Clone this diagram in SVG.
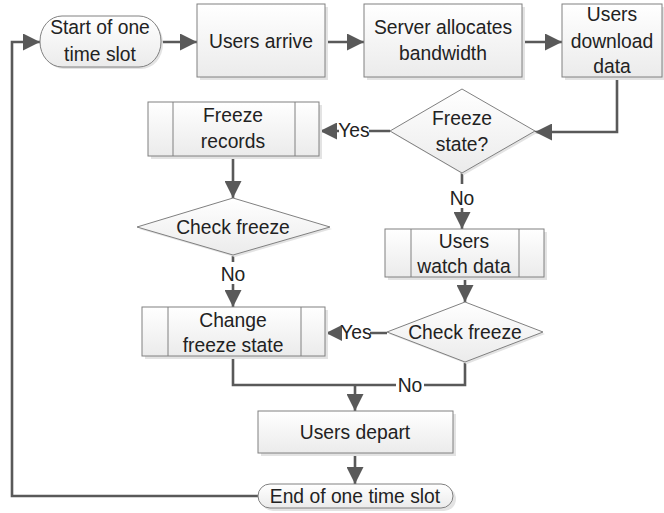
<svg xmlns="http://www.w3.org/2000/svg" width="664" height="513" viewBox="0 0 664 513">
<defs>
<linearGradient id="g" x1="0" y1="0" x2="0" y2="1">
<stop offset="0" stop-color="#ffffff"/>
<stop offset="1" stop-color="#ebebeb"/>
</linearGradient>
<marker id="ah" viewBox="0 0 10 10" refX="10" refY="5" markerWidth="17" markerHeight="17" markerUnits="userSpaceOnUse" orient="auto">
<path d="M0,0 L10,5 L0,10 z" fill="#595959"/>
</marker>
</defs>
<style>
.s{fill:url(#g);stroke:#808080;stroke-width:1}
.sh{fill:#e3e3e3;stroke:none}
.in{stroke:#808080;stroke-width:1;fill:none}
.c{fill:none;stroke:#595959;stroke-width:2.6}
.a{marker-end:url(#ah)}
text{font-family:"Liberation Sans",Arial,sans-serif;font-size:19.3px;fill:#222222;text-anchor:middle}
.lb{fill:#ffffff;stroke:none}
</style>

<g id="connectors">
<path class="c a" d="M161,42 H197"/>
<path class="c a" d="M325,42 H364"/>
<path class="c a" d="M522,42 H562"/>
<path class="c a" d="M617,77 V132 H535"/>
<path class="c a" d="M390,131 H320"/>
<path class="c a" d="M462,173 V229"/>
<path class="c a" d="M233,156 V198"/>
<path class="c a" d="M233,255 V307"/>
<path class="c a" d="M465,277 V302"/>
<path class="c a" d="M387,333 H326"/>
<path class="c" d="M233,356 V385 H355"/>
<path class="c" d="M465,362 V385 H355"/>
<path class="c a" d="M355,385 V411"/>
<path class="c a" d="M355,453 V484"/>
<path class="c a" d="M258,496 H12 V42 H40"/>
<rect class="lb" x="339" y="120" width="30" height="20"/>
<text x="354" y="137">Yes</text>
<rect class="lb" x="450" y="184" width="24" height="24"/>
<text x="462" y="205">No</text>
<rect class="lb" x="221" y="262" width="24" height="22"/>
<text x="233" y="281">No</text>
<rect class="lb" x="342" y="322" width="28" height="20"/>
<text x="356" y="339">Yes</text>
<rect class="lb" x="396" y="376" width="28" height="18"/>
<text x="410" y="392">No</text>
</g>

<g id="start">
<rect class="sh" x="42" y="18" width="121" height="51" rx="22" ry="25"/>
<rect class="s" x="40" y="16" width="121" height="51" rx="22" ry="25"/>
<text x="100" y="34">Start of one</text>
<text x="100" y="61">time slot</text>
</g>

<g id="users-arrive">
<rect class="sh" x="200" y="7" width="128" height="73"/>
<rect class="s" x="197" y="4" width="128" height="73"/>
<text x="261" y="48">Users arrive</text>
</g>

<g id="server-allocates">
<rect class="sh" x="367" y="7" width="158" height="73"/>
<rect class="s" x="364" y="4" width="158" height="73"/>
<text x="443" y="34">Server allocates</text>
<text x="443" y="60">bandwidth</text>
</g>

<g id="users-download">
<rect class="sh" x="565" y="7" width="100" height="73"/>
<rect class="s" x="562" y="4" width="100" height="73"/>
<text x="612" y="21">Users</text>
<text x="612" y="48">download</text>
<text x="612" y="73">data</text>
</g>

<g id="freeze-state">
<path class="sh" d="M464,91 L537,133 L464,175 L392,133 z"/>
<path class="s" d="M462,89 L535,131 L462,173 L390,131 z"/>
<text x="462" y="125">Freeze</text>
<text x="462" y="151">state?</text>
</g>

<g id="freeze-records">
<rect class="sh" x="151" y="105" width="171" height="54"/>
<rect class="s" x="148" y="102" width="171" height="54"/>
<path class="in" d="M173,102 V156 M295,102 V156"/>
<text x="233" y="122">Freeze</text>
<text x="233" y="148">records</text>
</g>

<g id="check-freeze-left">
<path class="sh" d="M235,200 L332,229 L235,257 L139,229 z"/>
<path class="s" d="M233,198 L330,227 L233,255 L137,227 z"/>
<text x="233" y="234">Check freeze</text>
</g>

<g id="users-watch">
<rect class="sh" x="388" y="232" width="159" height="48"/>
<rect class="s" x="385" y="229" width="159" height="48"/>
<path class="in" d="M411,229 V277 M519,229 V277"/>
<text x="464" y="248">Users</text>
<text x="464" y="273">watch data</text>
</g>

<g id="check-freeze-right">
<path class="sh" d="M467,304 L545,334 L467,364 L389,334 z"/>
<path class="s" d="M465,302 L543,332 L465,362 L387,332 z"/>
<text x="465" y="339">Check freeze</text>
</g>

<g id="change-freeze">
<rect class="sh" x="145" y="310" width="183" height="49"/>
<rect class="s" x="142" y="307" width="183" height="49"/>
<path class="in" d="M168,307 V356 M301,307 V356"/>
<text x="233" y="327">Change</text>
<text x="233" y="352">freeze state</text>
</g>

<g id="users-depart">
<rect class="sh" x="261" y="414" width="195" height="42"/>
<rect class="s" x="258" y="411" width="195" height="42"/>
<text x="355" y="439">Users depart</text>
</g>

<g id="end">
<rect class="sh" x="261" y="487" width="195" height="24" rx="12" ry="12"/>
<rect class="s" x="258" y="484" width="195" height="24" rx="12" ry="12"/>
<text x="355" y="503">End of one time slot</text>
</g>
</svg>
